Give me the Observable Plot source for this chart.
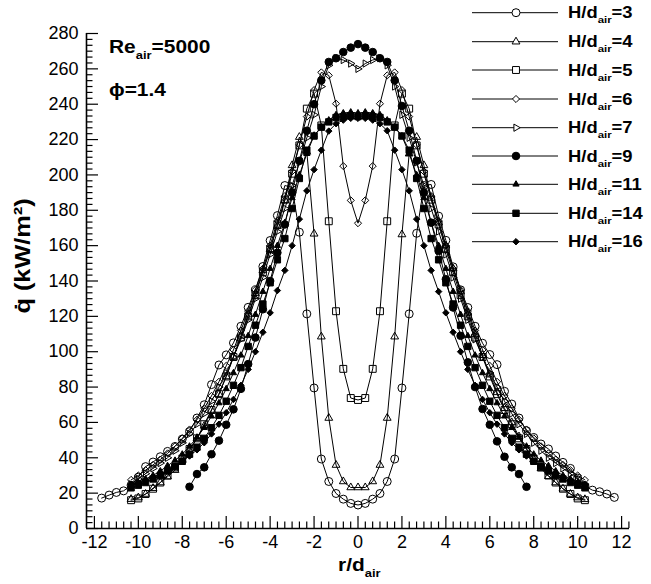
<!DOCTYPE html>
<html><head><meta charset="utf-8">
<script src="https://cdn.jsdelivr.net/npm/d3@7"></script>
<script src="https://cdn.jsdelivr.net/npm/@observablehq/plot@0.6"></script>
<style>
body{margin:0;background:#fff;}
#wrap{position:relative;width:651px;height:584px;font-family:"Liberation Sans",Arial,Helvetica,sans-serif;}
#wrap svg{position:absolute;left:0;top:0;}
</style></head><body><div id="wrap"></div>
<script>
// radial positions r/d_air
const rGrid = [-11.67,-11.33,-11,-10.67,-10.33,-10,-9.67,-9.33,-9,-8.67,-8.33,-8,-7.67,-7.33,-7,-6.67,-6.33,-6,-5.67,-5.33,-5,-4.67,-4.33,-4,-3.67,-3.33,-3,-2.67,-2.33,-2,-1.67,-1.33,-1,-0.67,-0.33,0,0.33,0.67,1,1.33,1.67,2,2.33,2.67,3,3.33,3.67,4,4.33,4.67,5,5.33,5.67,6,6.33,6.67,7,7.33,7.67,8,8.33,8.67,9,9.33,9.67,10,10.33,10.67,11,11.33,11.67];
const N4 = [null,null,null,null];
const N12 = [null,null,null,null,null,null,null,null,null,null,null,null];
// heat flux (kW/m^2) per nozzle-to-plate distance
const qH3 = [17.2,18.9,20.4,21.3,24.5,29,35,37.6,40.6,43.6,46.4,50.6,54.8,62.5,70,81.4,92.5,98.2,105,114.4,125.1,135,148.2,162.9,177,194,193,167.6,121.4,79.5,39.3,26.6,19.8,16.6,14.2,
  13.3,
  14.2,16.6,19.8,26.6,39.3,79.5,121.4,167,194,194.6,176.7,163,148,135,125,114.4,104.8,98.4,92.7,77.6,70.4,62.5,55.3,51.5,47.8,45,41,37.4,34,28.5,24,21.7,20.8,19.5,17.6];
const qH4 = [...N4,16.6,17.5,19.5,22.8,26,29.3,33,38.7,44,51,58,67,76,86,97,109,121,133,146,158,171,185.6,205.4,221.4,213,166.7,108.5,62.5,35.9,26.6,23.2,
  23.2,
  23.2,26.6,35.9,62.5,108.5,166.3,212,221.4,205.4,187,173,160,147,134,122,110,98,87,77,68,60,52,45,39,34,29.5,26,22.5,19.5,17.5,16.5,...N4];
const qH5 = [...N4,16,17,19.5,22.5,26,30,34.5,39.5,45,51,59,67,76,86,97,108,120,132,145,158,172,186,200.7,216.7,237.5,246,228,173.8,122.9,90.3,73.8,
  72.7,
  73.8,90.3,122.9,173.8,228,246,237.5,216.7,200.7,186,172,158,145,132,120,108,97,86,76,67,59,51,45,39.5,34.5,30,26,22.5,19.5,17,16,...N4];
const qH6 = [...N4,27.5,30,33,36,39,42.5,46.5,51,56,61.5,68,75,83,92,101,112,123,135,147,160,174,188,202,217,233,248,258,256.3,240.3,205,185.6,
  172.7,
  185.6,205,240.3,256.3,258,248,233,217,202,188,174,160,147,135,123,112,101,92,83,75,68,61.5,56,51,46.5,42.5,39,36,33,30,27.5,...N4];
const qH7 = [...N4,25,28,31,34,37,40,44,48.5,53.5,59,65,72,80,88,97,107,118,130,142,155,168,181,194,207,221,234,250,262,266,265,263,
  260,
  263,265,266,262,250,234,221,207,194,181,168,155,142,130,118,107,97,88,80,72,65,59,53.5,48.5,44,40,37,34,31,28,25,...N4];
const qH9 = [...N12,23.6,30.8,34.6,42,49.7,58.7,67.4,79,93,108,124,140,156,172,190,208,225,240,253.5,263.9,266,269.5,272,
  274,
  272,269.5,266,263.9,253.5,239,225,208,190,173,157,141,125,109,94,80,67.6,58.7,49.3,40.6,34.6,30.8,23.6,...N12];
const qH11 = [...N4,24,26,28,30,32.5,35.5,38.5,42,46.5,51.5,57,63.5,71,79,88,98,109,121,134,147,160,173,187,200,212,222.4,227,231,234,235,235.5,
  235,
  235.5,235,234,231,227,222,212,200,187,173,160,147,134,121,109,98,88,79,71,63.5,57,51.5,46.5,42,38.5,35.5,32.5,30,28,26,24,...N4];
const qH14 = [...N4,23,24.5,26,28,30,32.5,35,38,42,46,51,57,64,72,81,91,103,115,127,139,152,164,181,198,214,222,227,230,232.5,233,233.5,
  233,
  233.5,233,232.5,230,227,222,214,198,181,164,152,139,127,115,103,91,81,72,64,57,51,46,42,38,35,32.5,30,28,26,24.5,23,...N4];
const qH16 = [...N4,25,26,27.5,29,31,33,35,38,41,44.5,48.5,53.5,59,65.5,73,81,90,100,111,122,134.6,146,160,175,191,203,214,224.8,229,231,232,
  232,
  232,231,229,225,214,203,191,175,160,146,134,122,111,100,90,81,73,65.5,59,53.5,48.5,44.5,41,38,35,33,31,29,27.5,26,25,...N4];

const hLabels = ["3","4","5","6","7","9","11","14","16"];
const seriesQ = [qH3,qH4,qH5,qH6,qH7,qH9,qH11,qH14,qH16];
// marker styles
const symbols = ["circle","triangle","square","diamond2","triangle","circle","triangle","square","diamond2"];
const filled  = [false,false,false,false,false,true,true,true,true];
const rotates = [0,0,0,0,90,0,0,0,0];
const radii   = [4,2.9,3.9,3.2,2.7,3.8,2.3,3.6,2.9];

const xMajor = [-12,-10,-8,-6,-4,-2,0,2,4,6,8,10,12];
const yMajor = [0,20,40,60,80,100,120,140,160,180,200,220,240,260,280];
const xDomain = [-12.36, 12.36];
const yDomain = [0, 280];

const W = 651, H = 584, mL = 86, mR = 22, mT = 33, mB = 56;
const plotW = W - mL - mR, plotH = H - mT - mB;
const xMinor = d3.range(-36, 38).map(i => i/3).filter(v => v >= xDomain[0] && v <= xDomain[1] && Math.abs(v/2 - Math.round(v/2)) > 0.01);
const yMinor = d3.range(0, 85).map(i => i*10/3).filter(v => v <= 280 && Math.abs(v/20 - Math.round(v/20)) > 0.01);

const rows = [];
seriesQ.forEach((arr, s) => arr.forEach((q, k) => { if (q != null) rows.push({s, r: rGrid[k], q}); }));

const marks = [];
seriesQ.forEach((arr, s) => {
  const d = rows.filter(o => o.s === s);
  marks.push(Plot.line(d, {x: "r", y: "q", stroke: "#000", strokeWidth: 1}));
});
seriesQ.forEach((arr, s) => {
  const d = rows.filter(o => o.s === s);
  marks.push(Plot.dot(d, {x: "r", y: "q", symbol: symbols[s], r: radii[s], rotate: rotates[s],
    fill: filled[s] ? "#000" : "none", stroke: "#000", strokeWidth: 1}));
});

const chart = Plot.plot({
  width: W, height: H, marginLeft: mL, marginRight: mR, marginTop: mT, marginBottom: mB,
  x: {domain: xDomain},
  y: {domain: yDomain},
  style: {fontFamily: '"Liberation Sans", Arial, sans-serif', fontSize: "18px", color: "#000", background: "#fff"},
  marks: [
    Plot.axisX(xMajor, {tickSize: 0, tickPadding: 7, tickFormat: d => String(d), label: null}),
    Plot.axisY(yMajor, {tickSize: 0, tickPadding: 8, tickFormat: d => String(d), label: null}),
    Plot.tickX(xMajor, {x: d => d, insetTop: plotH - 12, stroke: "#000", strokeWidth: 1.2}),
    Plot.tickX(xMinor, {x: d => d, insetTop: plotH - 6.5, stroke: "#000", strokeWidth: 1.2}),
    Plot.tickY(yMajor, {y: d => d, insetRight: plotW - 12, stroke: "#000", strokeWidth: 1.2}),
    Plot.tickY(yMinor, {y: d => d, insetRight: plotW - 6.5, stroke: "#000", strokeWidth: 1.2}),
    Plot.ruleX([xDomain[0]], {stroke: "#000", strokeWidth: 1.6}),
    Plot.ruleY([yDomain[0]], {stroke: "#000", strokeWidth: 1.6}),
    ...marks
  ]
});
const wrap = document.getElementById("wrap");
wrap.appendChild(chart);

// overlay: annotations, axis titles, legend
const ov = d3.select(wrap).append("svg").attr("width", W).attr("height", H)
  .style("font-family", '"Liberation Sans", Arial, sans-serif').style("font-weight", "bold");
function subText(g, x, y, size, main, sub, tail, sx) {
  const t = g.append("text").attr("transform", `translate(${x},${y}) scale(${sx},1)`).attr("font-size", size);
  t.append("tspan").text(main);
  t.append("tspan").attr("font-size", size*0.62).attr("dy", size*0.3).text(sub);
  if (tail) t.append("tspan").attr("dy", -size*0.3).text(tail);
  return t;
}
subText(ov, 109, 53, 19, "Re", "air", "=5000", 1.1);
ov.append("text").attr("transform", "translate(109,96) scale(1.1,1)").attr("font-size", 19).text("\u03D5=1.4");
const xl = subText(ov, 0, 0, 19, "r/d", "air", null, 1.1);
xl.attr("transform", "translate(338,571) scale(1.1,1)");
ov.append("text").attr("transform", "translate(30,256) rotate(-90) scale(1.15,1)").attr("text-anchor", "middle")
  .attr("font-size", 22).text("q\u0307 (kW/m\u00B2)");

const legY = [12.7, 41.7, 70, 99, 127.7, 156, 184.3, 213.3, 241.7];
hLabels.forEach((h, s) => {
  const y = legY[s];
  ov.append("line").attr("x1", 472).attr("x2", 558).attr("y1", y).attr("y2", y).attr("stroke", "#000").attr("stroke-width", 1);
  const symMap = {circle: d3.symbolCircle, triangle: d3.symbolTriangle, square: d3.symbolSquare, diamond2: d3.symbolDiamond2};
  ov.append("path").attr("d", d3.symbol(symMap[symbols[s]], Math.PI*radii[s]*radii[s])())
    .attr("transform", `translate(516,${y}) rotate(${rotates[s]})`)
    .attr("fill", filled[s] ? "#000" : "#fff").attr("stroke", "#000").attr("stroke-width", 1);
  subText(ov, 568, y + 5.7, 16, "H/d", "air", "=" + h, 1.15);
});
</script></body></html>
